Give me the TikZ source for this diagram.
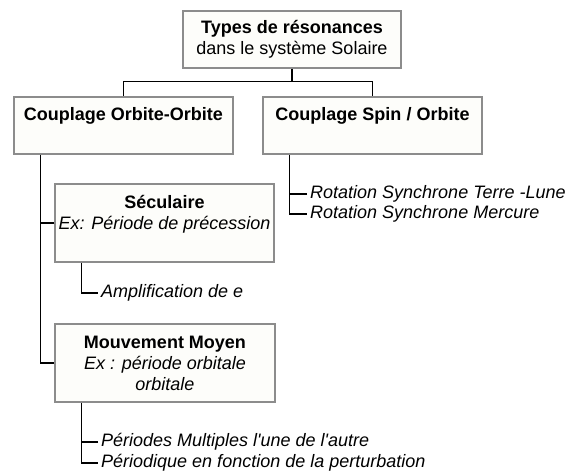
\documentclass[tikz,border=0pt]{standalone}
\usepackage{fontspec}
\setmainfont{Liberation Sans}[Ligatures=TeXOff]
\usetikzlibrary{positioning}
\definecolor{boxgray}{RGB}{140,140,140}
\definecolor{boxfill}{RGB}{253,253,250}
\tikzset{
  box/.style={draw=boxgray, fill=boxfill, line width=1.5pt, inner sep=0},
  title/.style={font=\fontsize{18}{21}\selectfont, align=center, inner sep=0},
  item/.style={font=\fontsize{18}{21}\selectfont\itshape, anchor=west, inner sep=3pt},
  conn/.style={line width=1.3pt}
}
\begin{document}
\begin{tikzpicture}[x=1pt,y=-1pt]
\useasboundingbox (0,0) rectangle (571,474);
\node [box, title, minimum width=218pt, minimum height=57pt] (types) at (292,39.5) {\textbf{Types de résonances}\\dans le système Solaire};
\node [box, minimum width=219pt, minimum height=57pt] (orbite) at (123.5,125.5) {};
\node [title, below=11.5pt of orbite.north] (orbitetxt) {\textbf{Couplage Orbite-Orbite}};
\node [box, minimum width=219pt, minimum height=57pt] (spin) at (372.5,125.5) {};
\node [title, below=11.5pt of spin.north] (spintxt) {\textbf{Couplage Spin / Orbite}};
\node [box, minimum width=219pt, minimum height=78pt] (secu) at (164.5,223) {};
\node [title, below=11.5pt of secu.north] (secutxt) {\textbf{Séculaire}\\{\itshape Ex: Période de précession}};
\node [box, minimum width=220pt, minimum height=78pt] (moyen) at (165,363) {};
\node [title] (moyentxt) at (moyen) {\textbf{Mouvement Moyen}\\{\itshape Ex : période orbitale}\\{\itshape orbitale}};
\node [item] (terre) at (307,194) {Rotation Synchrone Terre -Lune};
\node [item] (mercure) at (307,214) {Rotation Synchrone Mercure};
\node [item] (ampli) at (98,293) {Amplification de e};
\node [item] (multiples) at (98,442) {Périodes Multiples l'une de l'autre};
\node [item] (perturb) at (98,463) {Périodique en fonction de la perturbation};
\draw [conn] (types.south) -- ++(0,13) coordinate (hub);
\draw [conn] (hub) -| (orbite.north);
\draw [conn] (hub) -| (spin.north);
\draw [conn] ([xshift=27pt]orbite.south west) coordinate (otrunk) |- (moyen.west);
\draw [conn] (secu.west) -- (secu.west -| otrunk);
\draw [conn] ([xshift=27pt]spin.south west) coordinate (strunk) |- (mercure.west);
\draw [conn] (terre.west) -- (terre.west -| strunk);
\draw [conn] ([xshift=27pt]secu.south west) |- (ampli.west);
\draw [conn] ([xshift=27pt]moyen.south west) coordinate (mtrunk) |- (perturb.west);
\draw [conn] (multiples.west) -- (multiples.west -| mtrunk);
\end{tikzpicture}
\end{document}
